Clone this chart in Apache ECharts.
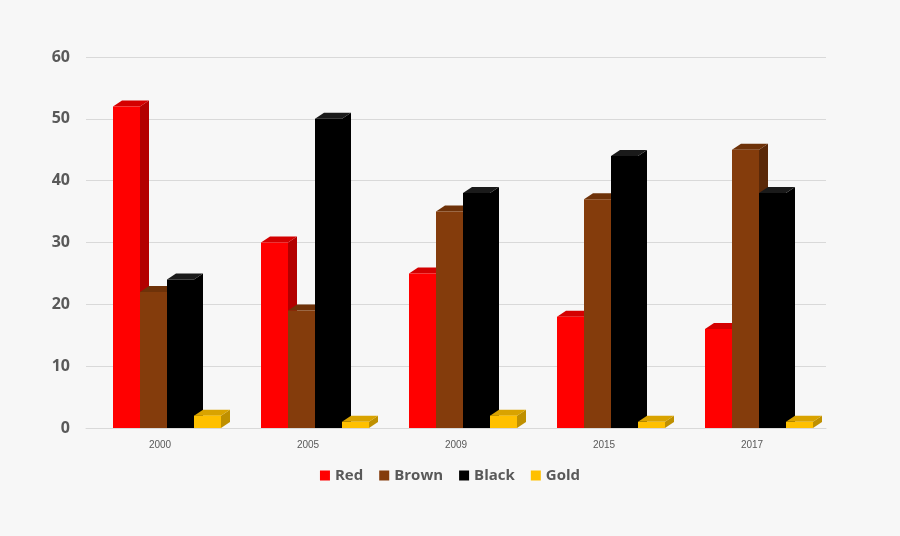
<!DOCTYPE html>
<html>
<head>
<meta charset="utf-8">
<script src="https://cdn.jsdelivr.net/npm/echarts@6/dist/echarts.min.js"></script>
<style>
  html, body { margin: 0; padding: 0; background: #f7f7f7; }
  #main { width: 900px; height: 536px; }
</style>
</head>
<body>
<div id="main"></div>
<script>
// Chart data
const years = ["2000", "2005", "2009", "2015", "2017"];
const red = [52, 30, 25, 18, 16];
const brown = [22, 19, 35, 37, 45];
const black = [24, 50, 38, 44, 38];
const gold = [2, 1, 2, 1, 1];

var myChart = echarts.init(document.getElementById("main"));

// front colour, side colour, top colour
const palette = [
  ["#ff0000", "#b30000", "#d40000"],
  ["#843c0c", "#5a2808", "#6e3209"],
  ["#000000", "#000000", "#1a1a1a"],
  ["#ffc000", "#bf9000", "#d9a300"],
];

function makeSeries(name, values, idx) {
  return {
    name: name,
    type: "custom",
    itemStyle: { color: palette[idx][0] },
    data: values.map((v, i) => [i, v]),
    encode: { x: 0, y: 1 },
    renderItem: function (params, api) {
      const base = api.coord([api.value(0), 0]);
      const top = api.coord([api.value(0), api.value(1)]);
      const w = 27, dx = 9, dy = 6;
      const x0 = base[0] - 47 + idx * w;
      const x1 = x0 + w;
      const y0 = top[1], y1 = base[1];
      return {
        type: "group",
        children: [
          { type: "polygon", shape: { points: [[x1, y0], [x1 + dx, y0 - dy], [x1 + dx, y1 - dy], [x1, y1]] },
            style: { fill: palette[idx][1] } },
          { type: "polygon", shape: { points: [[x0, y0], [x0 + dx, y0 - dy], [x1 + dx, y0 - dy], [x1, y0]] },
            style: { fill: palette[idx][2] } },
          { type: "rect", shape: { x: x0, y: y0, width: w, height: y1 - y0 },
            style: { fill: palette[idx][0] } },
        ],
      };
    },
  };
}

var option = {
  backgroundColor: "#f7f7f7",
  animation: false,
  grid: { left: 86, right: 74, top: 57, bottom: 108 },
  legend: {
    bottom: 48,
    itemWidth: 10,
    itemHeight: 10,
    itemGap: 16,
    icon: "rect",
    textStyle: { fontFamily: "Open Sans", fontWeight: "bold", fontSize: 15, color: "#595959" },
  },
  xAxis: {
    type: "category",
    data: years,
    axisTick: { show: false },
    axisLine: { lineStyle: { color: "#d9d9d9" } },
    axisLabel: { fontSize: 10, color: "#595959", margin: 12 },
  },
  yAxis: {
    type: "value",
    min: 0,
    max: 60,
    interval: 10,
    axisLabel: { fontFamily: "Open Sans", fontWeight: "bold", fontSize: 16, color: "#595959", margin: 16 },
    splitLine: { lineStyle: { color: "#d9d9d9" } },
  },
  series: [
    makeSeries("Red", red, 0),
    makeSeries("Brown", brown, 1),
    makeSeries("Black", black, 2),
    makeSeries("Gold", gold, 3),
  ],
};

myChart.setOption(option);
</script>
</body>
</html>
